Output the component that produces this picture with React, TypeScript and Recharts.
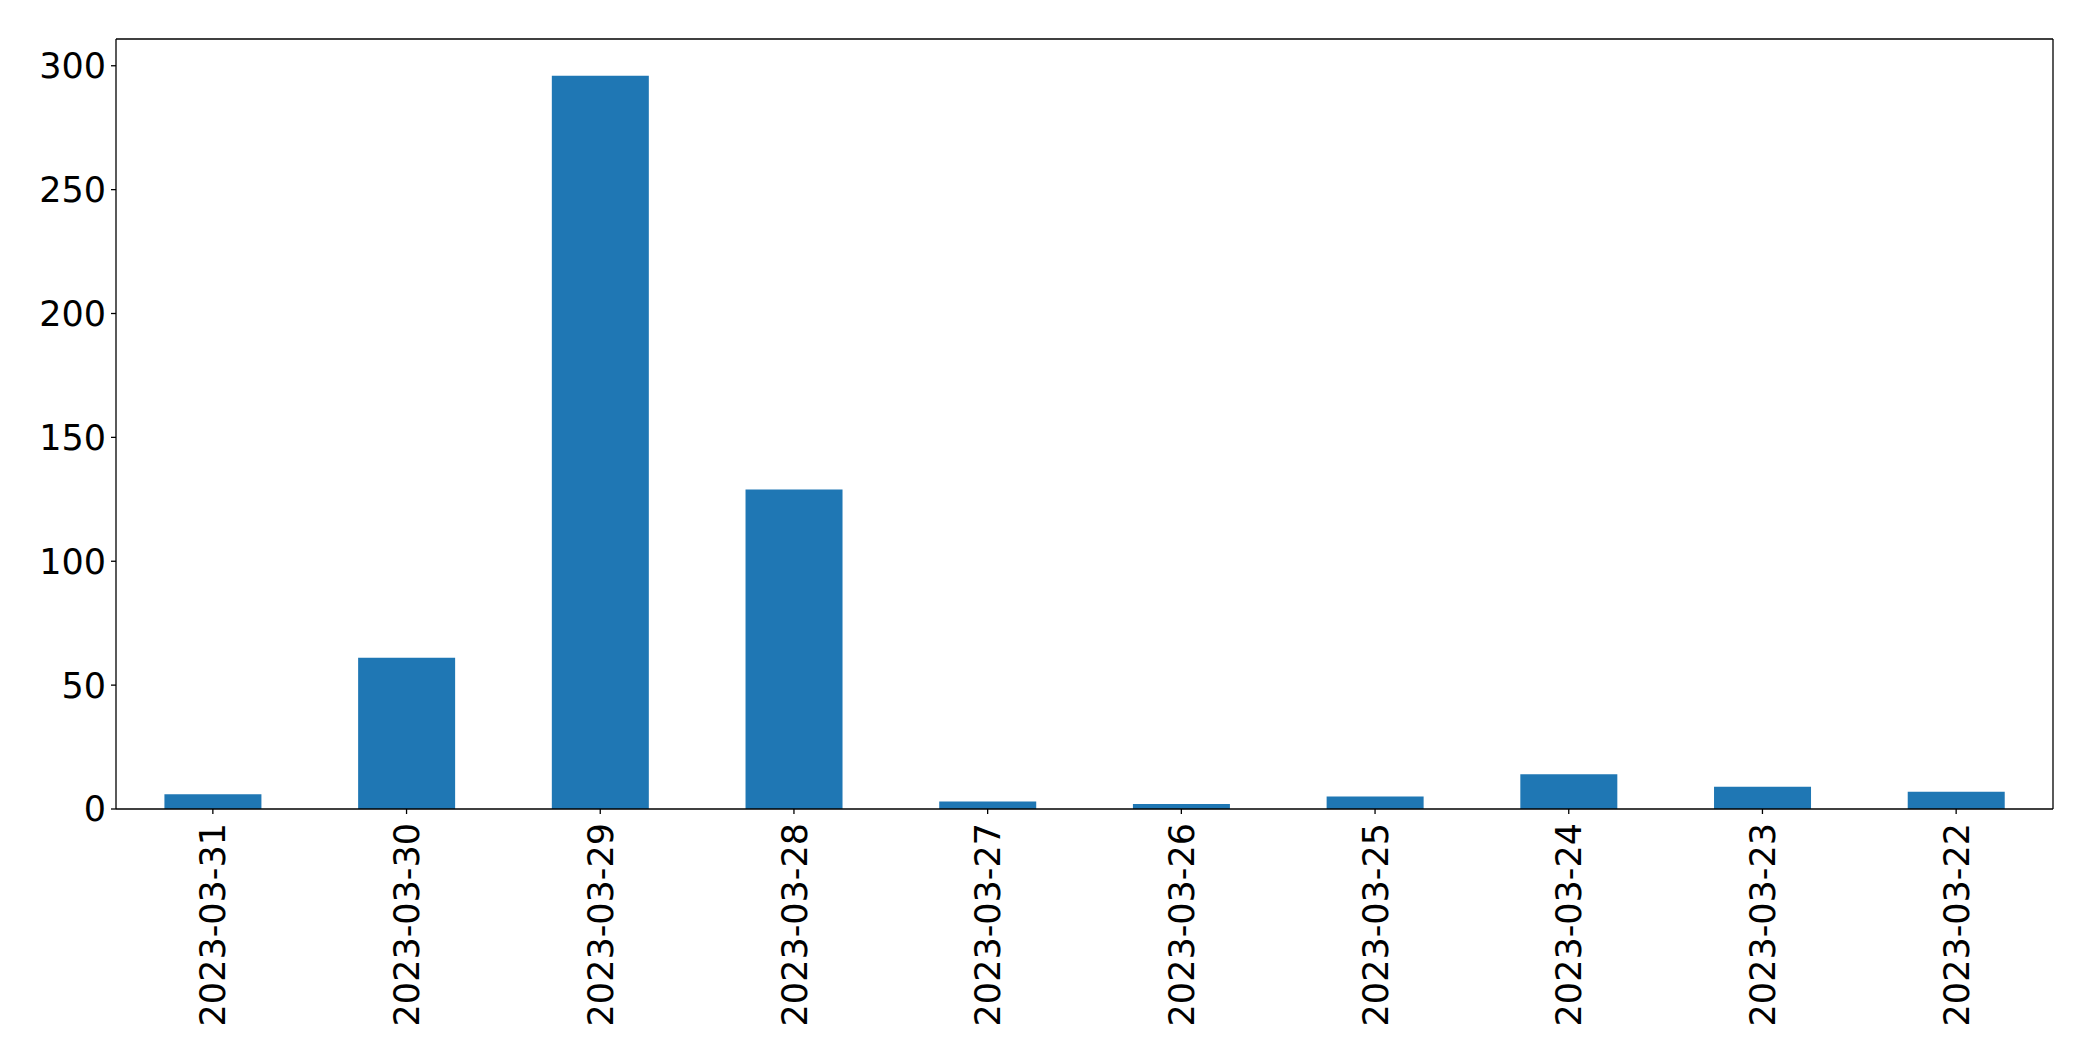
import React from "react";
import { Bar, BarChart, ReferenceLine, XAxis, YAxis } from "recharts";

const dates = [
  "2023-03-31",
  "2023-03-30",
  "2023-03-29",
  "2023-03-28",
  "2023-03-27",
  "2023-03-26",
  "2023-03-25",
  "2023-03-24",
  "2023-03-23",
  "2023-03-22",
];
const counts = [6, 61, 296, 129, 3, 2, 5, 14, 9, 7];
const yTicks = [0, 50, 100, 150, 200, 250, 300];
const yMax = 310.8;

const data = dates.map((d, i) => ({ date: d, count: counts[i] }));

const FONT = "'DejaVu Sans', sans-serif";

const DateTick = (props: any) => {
  const { x, y, payload } = props;
  return (
    <text
      x={0}
      y={0}
      transform={`translate(${x},${y + 7}) rotate(-90)`}
      textAnchor="end"
      dy="0.36em"
      fontSize={35}
      fontFamily={FONT}
      fill="#000"
    >
      {payload.value}
    </text>
  );
};

const App: React.FC = () => {
  return (
    <div style={{ position: "absolute", left: 0, top: 0, background: "#fff" }}>
      <BarChart
        width={2093}
        height={1061}
        data={data}
        barCategoryGap="25%"
        margin={{ top: 39, right: 40, left: 16, bottom: 22 }}
      >
        <XAxis
          dataKey="date"
          height={230}
          interval={0}
          stroke="#000"
          strokeWidth={1.3}
          tickSize={5}
          tick={<DateTick />}
        />
        <YAxis
          width={100}
          domain={[0, yMax]}
          ticks={yTicks}
          stroke="#000"
          strokeWidth={1.3}
          tickSize={5}
          tickMargin={5}
          tick={{ fontSize: 35, fontFamily: FONT, fill: "#000" }}
        />
        <Bar dataKey="count" fill="#1f77b4" isAnimationActive={false} />
        {/* box frame: top and right sides */}
        <ReferenceLine y={yMax} stroke="#000" strokeWidth={1.3} />
        <ReferenceLine x={dates[dates.length - 1]} position="end" stroke="#000" strokeWidth={1.3} />
      </BarChart>
    </div>
  );
};

export default App;
